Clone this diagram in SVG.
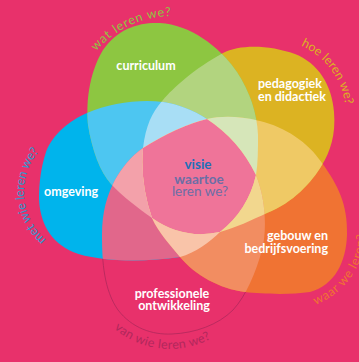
<svg xmlns="http://www.w3.org/2000/svg" xmlns:xlink="http://www.w3.org/1999/xlink" width="359" height="362" viewBox="0 0 359 362">
<style>
.lbl{font-family:Lato,'Liberation Sans',sans-serif;font-weight:700;font-size:12.5px;fill:#ffffff}
.ctr{font-family:Lato,'Liberation Sans',sans-serif;font-size:13.5px}
.arc{font-family:Lato,'Liberation Sans',sans-serif;font-size:12.5px}
</style>
<defs>
<path id="pP" d="M207,119 Q178,126 143,148 C131,156 122,168 115,180 C107,195 102,212 102,235 C102,262 104,290 118,310 C132,328 152,335 172,334 C195,333 218,325 233,310 C246,296 256,272 262,250 C267,230 266,200 256,175 Q239,140 207,119 Z"/>
<path id="pO" d="M143,148 Q178,126 207,119 C222,115.5 240,116 260,121 C285,127 308,142 322,163 C338,185 348,205 347,235 C346,262 335,285 310,292 C290,295 262,294 245,292 C220,289 195,275 180,257 C170,245 158,232 152,218 Q140,184 143,148 Z"/>
<path id="pY" d="M152,218 Q140,184 143,148 C146,125 152,112 163,100 C172,89 195,68 223,53 C240,44 270,45 295,54 C318,63 332,85 334,112 C336,135 330,152 322,165 C312,182 293,203 267,213 C252,220 235,228 220,232 Q183,240 152,218 Z"/>
<path id="pG" d="M220,232 Q183,240 152,218 C138,208 122,196 111,184 C100,172 92,150 88,125 C86,105 88,75 103,50 C118,28 140,22 160,23 C190,25 218,45 237,72 C250,92 257,113 258,135 C258,150 258,163 256,175 Q248,210 220,232 Z"/>
<path id="pB" d="M256,175 Q239,140 207,119 C193,110 178,104 163,102 C140,99 110,103 87,113 C70,120 52,135 46,152 C41,167 39,183 39,199 C40,222 50,242 73,252 C95,261 140,263 180,257 C195,253 210,242 220,232 Q248,210 256,175 Z"/>
<clipPath id="cP"><use xlink:href="#pP"/></clipPath>
<clipPath id="cO"><use xlink:href="#pO"/></clipPath>
<clipPath id="cY"><use xlink:href="#pY"/></clipPath>
<clipPath id="cG"><use xlink:href="#pG"/></clipPath>
<clipPath id="cB"><use xlink:href="#pB"/></clipPath>
<path id="aWat" d="M96.2,51.4 A99,99 0 0 1 189.2,17.5"/>
<path id="aHoe" d="M300.9,45.6 A76,76 0 0 1 345.7,121.6"/>
<path id="aMet" d="M46.1,239.5 A62,62 0 0 1 46.1,144.5"/>
<path id="aWaar" d="M315.6,304.9 A77,77 0 0 0 362.4,213.1"/>
<path id="aVan" d="M114.1,328.6 A87,87 0 0 0 225.9,328.6"/>
</defs>
<rect width="359" height="362" fill="#E8316B"/>
<g id="shapes">
<use id="shape-professionele-ontwikkeling" xlink:href="#pP" fill="#E8316B" stroke="#B0285C" stroke-width="0.8"/>
<use id="shape-omgeving" xlink:href="#pB" fill="#00B4EC"/>
<use id="shape-gebouw" xlink:href="#pO" fill="#F07333"/>
<use id="shape-pedagogiek" xlink:href="#pY" fill="#DCB322"/>
<use id="shape-curriculum" xlink:href="#pG" fill="#8DC641"/>
</g>
<g id="overlaps">
<g clip-path="url(#cY)"><use xlink:href="#pG" fill="#B2D47F"/></g>
<g clip-path="url(#cB)"><use xlink:href="#pG" fill="#4DC6F1"/></g>
<g clip-path="url(#cO)"><use xlink:href="#pY" fill="#EFC965"/></g>
<g clip-path="url(#cP)"><use xlink:href="#pB" fill="#E1678B"/></g>
<g clip-path="url(#cP)"><use xlink:href="#pO" fill="#F28D61"/></g>
<g clip-path="url(#cG)"><g clip-path="url(#cB)"><use xlink:href="#pY" fill="#A8DEF5"/></g></g>
<g clip-path="url(#cG)"><g clip-path="url(#cY)"><use xlink:href="#pO" fill="#D6E6B9"/></g></g>
<g clip-path="url(#cG)"><g clip-path="url(#cB)"><use xlink:href="#pP" fill="#F3A1AA"/></g></g>
<g clip-path="url(#cB)"><g clip-path="url(#cO)"><use xlink:href="#pP" fill="#F9C4A9"/></g></g>
<g clip-path="url(#cY)"><g clip-path="url(#cO)"><use xlink:href="#pP" fill="#F2D78E"/></g></g>
<g clip-path="url(#cG)"><g clip-path="url(#cY)"><g clip-path="url(#cB)"><g clip-path="url(#cO)"><use xlink:href="#pP" fill="#EF7499"/></g></g></g></g>
</g>
<g id="node-curriculum"><text class="lbl" x="146" y="70" text-anchor="middle">curriculum</text></g>
<g id="node-pedagogiek"><text class="lbl" x="258" y="88">pedagogiek</text><text class="lbl" x="258" y="101">en didactiek</text></g>
<g id="node-omgeving"><text class="lbl" x="44" y="196">omgeving</text></g>
<g id="node-gebouw"><text class="lbl" x="328" y="240" text-anchor="end">gebouw en</text><text class="lbl" x="328" y="253" text-anchor="end">bedrijfsvoering</text></g>
<g id="node-professionele-ontwikkeling"><text class="lbl" x="172" y="298" text-anchor="middle">professionele</text><text class="lbl" x="174" y="310" text-anchor="middle">ontwikkeling</text></g>
<g id="node-visie">
<text class="ctr" x="198" y="169" text-anchor="middle" fill="#1F6FB8" font-weight="700">visie</text>
<text class="ctr" x="199" y="184" text-anchor="middle" fill="#6B6EA6" font-weight="700">waartoe</text>
<text class="ctr" x="200" y="196" text-anchor="middle" fill="#6B6EA6">leren we?</text>
</g>
<g id="questions">
<text class="arc" fill="#8DC641"><textPath xlink:href="#aWat" textLength="85" lengthAdjust="spacing">wat leren we?</textPath></text>
<text class="arc" fill="#DCB322"><textPath xlink:href="#aHoe" textLength="77" lengthAdjust="spacing">hoe leren we?</textPath></text>
<text class="arc" fill="#2C9AD0"><textPath xlink:href="#aMet" textLength="98" lengthAdjust="spacing">met wie leren we?</textPath></text>
<text class="arc" fill="#F07333"><textPath xlink:href="#aWaar" textLength="91" lengthAdjust="spacing">waar we leren?</textPath></text>
<text class="arc" fill="#B0285C"><textPath xlink:href="#aVan" textLength="103" lengthAdjust="spacing">van wie leren we?</textPath></text>
</g>
</svg>
